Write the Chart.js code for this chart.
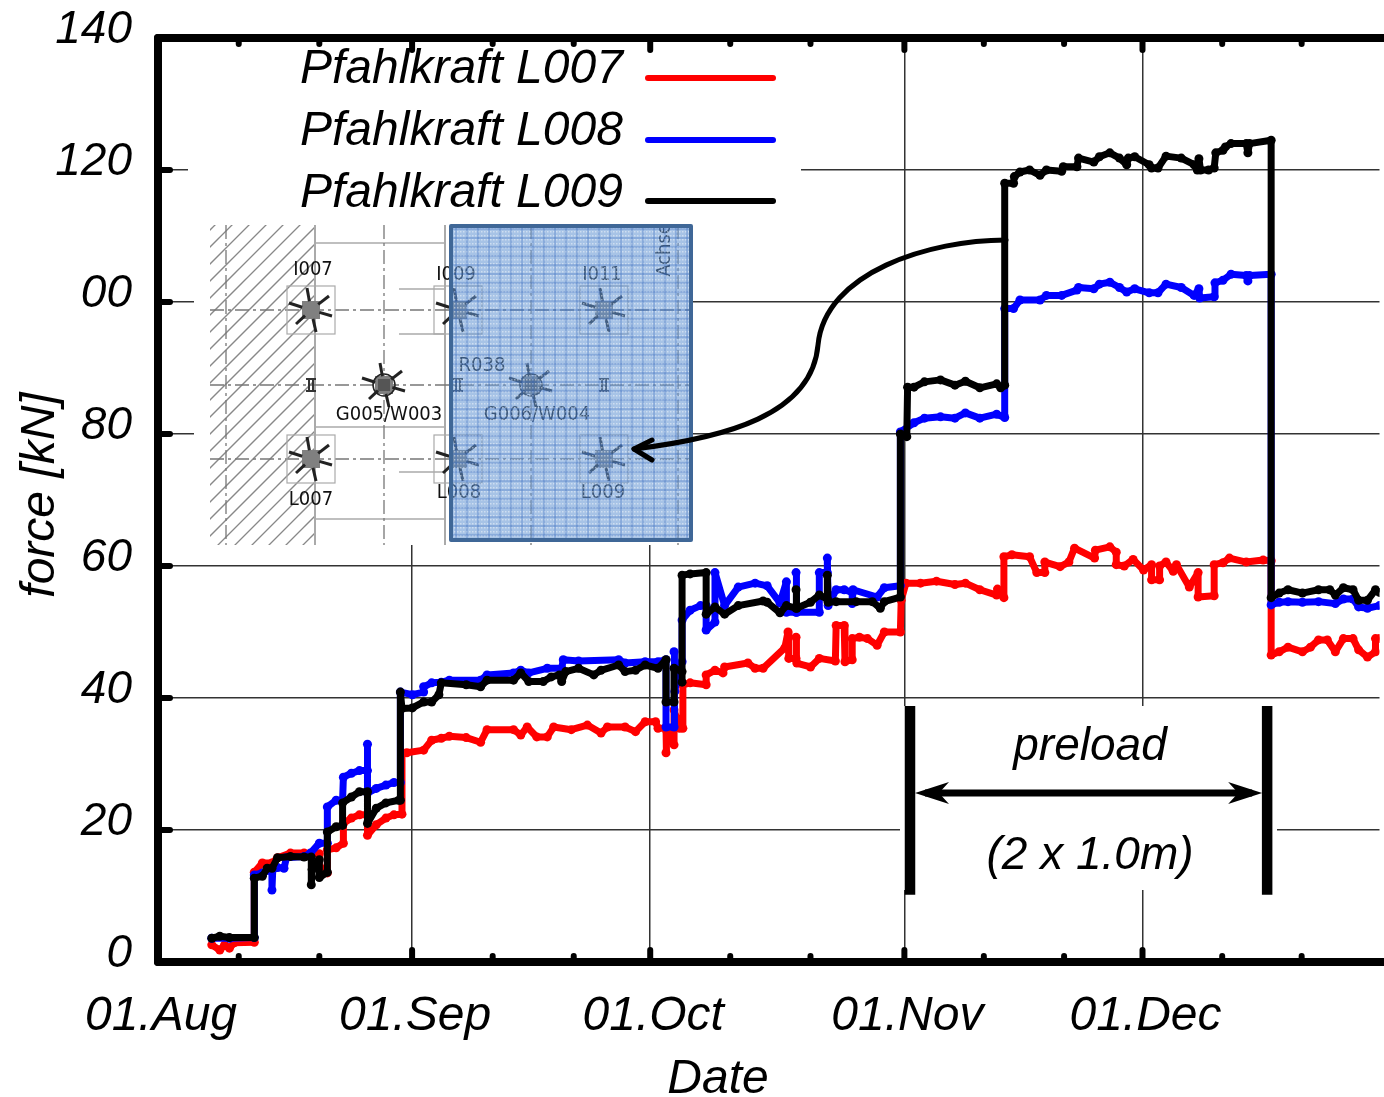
<!DOCTYPE html>
<html>
<head>
<meta charset="utf-8">
<title>force</title>
<script src="https://cdn.jsdelivr.net/npm/chart.js@4"></script>
<style>
  body { margin: 0; background: #fff; }
  canvas { display: block; }
</style>
</head>
<body>
<canvas id="chart" width="1384" height="1097"></canvas>
<script>
// Values: [days since 01.Aug, kN]
const l007 = [[6.7,2.6],[7.7,1.8],[8.3,2.6],[8.9,2.1],[9.5,2.9],[12,3],[12,13.6],[13,15],[14.2,15],[14.9,15.8],[16.5,16.5],[18.2,16.5],[20.1,16.4],[20.1,14.5],[21.1,13.5],[21.1,17],[22.2,17.3],[23.1,18],[23.1,21],[24.1,21.8],[25.1,22.3],[26.1,22.3],[26.1,19.2],[27.2,20.8],[28.4,21.8],[29.4,22.3],[30.4,22.4],[30.4,31.7],[31,31.7],[33.1,32.1],[34.1,33.6],[35.3,33.9],[36.3,34.2],[38.4,34],[40.2,33.3],[41,35.2],[44.3,35.2],[45.2,34.4],[46,35.6],[47.2,34.1],[48.5,34.1],[49.3,35.6],[51.5,35.2],[53.5,35.9],[55.2,34.7],[56,35.6],[58.2,35.6],[59.5,34.9],[60.7,36.4],[62,36.4],[62.3,35.4],[63.3,35.4],[63.3,31.7],[63.4,35],[64.3,32.9],[64.3,38.2],[65,35.4],[65.4,35.4],[65.4,42],[66.3,42.3],[68.3,42],[68.3,43.5],[69.4,44.2],[70.4,43.8],[70.6,44.7],[73.5,45.3],[74.4,44.5],[75.4,44.5],[78.1,47.6],[78.5,50],[78.6,46],[79.5,46],[79.5,49.2],[79.6,45.3],[81.3,44.7],[82.4,46],[84.4,45.6],[84.5,51],[85.5,51],[85.6,45.5],[86.5,45.8],[86.5,49],[87.4,49.2],[88.4,49],[89.6,48],[90.5,50],[92.5,50],[92.6,54.8],[93.2,57.4],[95,57.4],[97,57.7],[99.3,57.2],[100.6,57.4],[102.4,56.4],[104.5,55.6],[104.6,56.5],[105.4,55.2],[105.4,61.4],[106.4,61.7],[108.6,61.4],[109.5,59],[110.5,59],[110.5,60.6],[112.4,59.9],[113.5,60.6],[114.2,62.7],[116.7,61.2],[116.8,62.4],[118.6,62.9],[119.4,62.1],[119.4,60.2],[120.4,60],[121.5,61],[122.8,59.4],[123.8,60.2],[123.8,57.9],[124.8,57.9],[124.8,60],[125.6,60.6],[126.5,59.2],[126.9,60.2],[128.5,56.8],[129.6,59],[129.6,55.3],[131.6,55.5],[131.6,60.2],[132.7,60.5],[133.5,61.2],[135.6,60.6],[137.7,60.9],[138.7,60.8],[138.7,46.5],[139.7,47],[140.8,47.7],[142.6,47],[143.6,47.7],[144.6,48.8],[145.7,48.8],[146.7,47],[147.7,49],[148.9,49],[149.6,47.3],[150.7,46.2],[151.7,47],[151.7,49],[152.2,49]]

const l008 = [[6.7,3.6],[8.9,3.6],[12,3.7],[12,13.2],[13,13.5],[14.2,14],[14.2,10.9],[14.3,14],[14.9,14.3],[15.7,14.2],[16,15.8],[18.2,16],[19,16.5],[20.1,18],[21.1,18],[21.1,23.5],[22.2,24.5],[23,24.5],[23.1,28],[24.1,28.6],[25.1,29],[26.1,29],[26.1,33],[26.1,25.6],[27.2,26.3],[28.4,26.8],[29.4,27.2],[30.2,27.2],[30.2,40.9],[31.7,40.5],[33.1,40.9],[33.1,41.7],[34.1,42.3],[35.3,42.4],[36.3,42.7],[40.2,42.7],[41,43.5],[44.3,43.8],[45.2,44.2],[46.2,43.8],[48.5,44.5],[50.3,44.5],[50.5,45.8],[52.4,45.6],[57.4,45.8],[58.2,45.3],[60.7,45.5],[62.3,45.5],[63.3,45.8],[63.3,35.6],[64.3,35.6],[64.3,47],[64.4,41],[65.3,45.5],[65.3,51.8],[66.3,53.3],[67.6,54],[68.3,54],[68.3,50.3],[69.4,51.5],[69.4,59],[70.6,54],[72.3,56.8],[74.4,57.4],[75.9,57],[77.5,54.4],[78.3,57.6],[78.3,53],[79.5,53],[79.5,59],[79.6,53],[82.4,53],[82.4,59],[83.4,59],[83.4,61.2],[83.5,54],[84.5,56.4],[85.5,56.4],[86.5,56],[86.5,54.3],[86.6,56.4],[89.6,55.3],[90.5,56.7],[92.5,57],[92.5,80.3],[94.2,81.7],[95.5,82.4],[97.5,82.6],[99.3,82.4],[100.6,83.2],[102.4,82.4],[104.5,83],[105.5,82.5],[105.5,99],[106.6,99],[107.4,100.3],[109.9,100.3],[110.7,101],[112.6,101],[114.5,101.8],[114.7,102.2],[116.6,102],[117.3,102.7],[118.6,103],[119.8,102.2],[120.7,101.5],[121.7,102],[123.5,101.4],[124.6,101.4],[125.6,102.7],[127.5,102.2],[129.1,101],[129.7,102],[129.8,100.6],[131.6,100.8],[131.7,102.9],[132.7,103.3],[133.7,104.2],[135.6,104],[135.8,103.2],[136,104],[138.7,104.2],[138.7,54.1],[139.7,54.5],[140.8,54.6],[142.6,54.5],[144.6,54.6],[146.7,54.3],[147.7,55],[148.9,55],[149.6,53.8],[150.7,53.6],[152.2,54]]

const l009 = [[6.7,3.6],[7.7,3.9],[8.9,3.7],[12,3.7],[12,12.7],[13,13],[13.6,14.2],[14.2,14.2],[14.9,15.8],[16.5,16],[18.2,15.9],[19.1,15.9],[19.1,11.7],[19.2,14],[20.1,15.5],[20.1,12.8],[21.1,13.6],[21.1,19.7],[22.2,20.5],[23,20.7],[23,24.1],[24.1,25],[25.1,25.8],[26.1,25.8],[26.1,21],[27.2,23.3],[28.4,24.1],[30,24.5],[30.2,24.5],[30.2,40.9],[30.4,38.4],[31.7,38.5],[33.1,39.4],[34.1,39.4],[35,40.5],[35.3,42.3],[38.4,42],[40.2,41.7],[41,42.7],[44.3,42.7],[45.2,43.8],[46.2,42.5],[48,42.5],[49,43.2],[50,43.5],[50.3,42.5],[50.8,44],[52.4,44.5],[54.3,43.5],[55.2,44.2],[57.4,45],[58.2,44],[59.5,44.2],[60.7,45],[62.3,44.5],[63.3,45.8],[63.3,39.4],[64.3,39.4],[64.3,44.5],[65.3,44],[65.3,42.4],[65.3,58.6],[66.3,58.8],[68.3,59],[68.3,52.7],[69.4,53.8],[70.6,52.7],[72.3,54],[75.4,54.7],[75.9,54.5],[77.5,52.9],[78.3,54],[79.5,53.6],[79.5,56.4],[79.6,53.6],[81.3,54.5],[82.4,55.6],[83.4,55],[83.4,58.6],[83.5,54.5],[84.5,54.6],[87,54.6],[89,54.6],[90,53.6],[90.5,54.6],[92.5,55.3],[92.5,80],[93.3,79.6],[93.4,87.1],[94.2,87.1],[95.5,87.9],[97.5,88.2],[99.3,87.4],[100.6,88],[102.4,87],[104.5,87.6],[105,87],[105.5,87.4],[105.5,118],[106.6,118],[106.7,119],[107.4,119.7],[108.6,120],[109.9,119.2],[110.7,120],[112.6,119.8],[112.8,120.5],[114.5,120.5],[114.7,121.8],[116.6,121.2],[117.3,122],[118.6,122.6],[119.8,121.8],[120.7,120.8],[120.9,121.8],[121.7,122],[123.5,120.8],[123.8,120.3],[124.6,120.3],[125.6,122.1],[127.5,121.8],[129.1,120.8],[129.5,120],[129.7,121.7],[129.9,120],[130.9,120],[131.6,120.3],[131.8,122.6],[132.7,123],[133,123.5],[133.7,124],[135.6,124],[135.8,122.6],[136,124],[138.7,124.5],[138.7,55.2],[139.7,55.9],[140.8,56.4],[142.6,55.9],[144.6,56.4],[146,56.4],[146.7,55.6],[147.7,56.7],[148.9,56.4],[149.6,54.8],[150.7,54.8],[151.7,56.4],[152.2,56]]

// Tick labels and where the picture puts them
const monthTicks = [0, 31.66, 61.33, 93, 122.67]
const monthLabels = ["01.Aug", "01.Sep", "01.Oct", "01.Nov", "01.Dec"]
const minorTicks = [10.06, 20.1, 41.7, 51.8, 71.3, 81.3, 102.9, 112.9, 132.6, 142.5]
const forceLabels = ["0", "20", "40", "60", "80", "00", "120", "140"]

const seriesNames = ["Pfahlkraft L007", "Pfahlkraft L008", "Pfahlkraft L009"]
const seriesColors = ["#ff0000", "#0000ff", "#000000"]
const preloadDays = [93.7, 138.2]

const FONT = '"Liberation Sans", Arial, sans-serif'
const bigFont = `italic 48px ${FONT}`

function line(ctx, x1, y1, x2, y2) {
  ctx.beginPath()
  ctx.moveTo(x1, y1)
  ctx.lineTo(x2, y2)
  ctx.stroke()
}

// Pile symbol of the little site plan
function pile(ctx, cx, cy, boxed, ring) {
  ctx.save()
  if (boxed) {
    ctx.strokeStyle = "#aaa"
    ctx.lineWidth = 1.2
    ctx.strokeRect(cx - 24, cy - 24, 48, 48)
  }
  ctx.fillStyle = "#808080"
  ctx.fillRect(cx - 9, cy - 9, 18, 18)
  ctx.strokeStyle = "#222"
  ctx.lineWidth = 3
  const spokes = [[-4, -22], [18, -14], [21, 6], [5, 22], [-15, 14], [-22, -7]]
  spokes.forEach((s) => line(ctx, cx + s[0] * 0.4, cy + s[1] * 0.4, cx + s[0], cy + s[1]))
  if (ring) {
    ctx.lineWidth = 1.5
    ctx.beginPath()
    ctx.arc(cx, cy, 11, 0, Math.PI * 2)
    ctx.stroke()
    ctx.fillStyle = "#555"
    ctx.fillRect(cx - 6, cy - 6, 12, 12)
  }
  ctx.restore()
}

function drawPlan(ctx) {
  ctx.save()
  ctx.beginPath()
  ctx.rect(210, 225, 105, 320)
  ctx.clip()
  ctx.strokeStyle = "#888"
  ctx.lineWidth = 1.3
  for (let i = 0; i < 30; i++) {
    line(ctx, 190, 250 + i * 17, 330, 110 + i * 17)
  }
  ctx.restore()

  ctx.save()
  ctx.strokeStyle = "#aaa"
  ctx.lineWidth = 2
  line(ctx, 315, 225, 315, 545)
  line(ctx, 445, 225, 445, 545)
  ctx.lineWidth = 1.5
  ;[243, 427, 519].forEach((y) => line(ctx, 315, y, 445, y))
  ;[289, 334, 472].forEach((y) => line(ctx, 399, y, 445, y))

  ctx.strokeStyle = "#777"
  ctx.lineWidth = 1.3
  ctx.setLineDash([14, 4, 3, 4])
  ;[310, 385, 459].forEach((y) => line(ctx, 210, y, 690, y))
  ;[226, 384, 531, 678].forEach((x) => line(ctx, x, 225, x, 545))
  ctx.restore()

  ;[311, 458, 604].forEach((x) => {
    pile(ctx, x, 310, true, false)
    pile(ctx, x, 459, true, false)
    ctx.strokeStyle = "#333"
    ctx.lineWidth = 2
    line(ctx, x - 5, 379, x + 5, 379)
    line(ctx, x - 5, 391, x + 5, 391)
    line(ctx, x - 2, 379, x - 2, 391)
    line(ctx, x + 2, 379, x + 2, 391)
  })
  pile(ctx, 384, 385, false, true)
  pile(ctx, 531, 385, false, true)

  ctx.save()
  ctx.fillStyle = "#111"
  ctx.font = '20px "DejaVu Sans Condensed", "DejaVu Sans", sans-serif'
  ctx.textAlign = "center"
  ctx.textBaseline = "middle"
  const planLabels = [["I007", 313, 270], ["I009", 456, 275], ["I011", 602, 275], ["R038", 482, 366], ["G005/W003", 389, 415], ["G006/W004", 537, 415], ["L007", 311, 500], ["L008", 459, 493], ["L009", 603, 493]]
  planLabels.forEach((t) => ctx.fillText(t[0], t[1], t[2]))
  ctx.translate(665, 250)
  ctx.rotate(-Math.PI / 2)
  ctx.fillText("Achse", 0, 0)
  ctx.restore()

  // translucent blue panel with the mesh look
  ctx.save()
  ctx.fillStyle = "rgba(95,145,210,0.55)"
  ctx.fillRect(450, 225, 242, 316)
  ctx.beginPath()
  ctx.rect(450, 225, 242, 316)
  ctx.clip()
  ctx.fillStyle = "rgba(255,255,255,0.45)"
  for (let y = 227; y < 541; y += 4) {
    for (let x = 451; x < 692; x += 3) {
      ctx.fillRect(x, y, 1.5, 1.5)
    }
  }
  ctx.strokeStyle = "rgba(50,100,190,0.5)"
  ctx.lineWidth = 1
  for (let y = 229; y < 541; y += 9) line(ctx, 450, y, 692, y)
  for (let x = 456; x < 692; x += 11) line(ctx, x, 225, x, 541)
  ctx.restore()
  ctx.strokeStyle = "#3f6797"
  ctx.lineWidth = 4
  ctx.lineJoin = "round"
  ctx.strokeRect(451, 226, 240, 314)
}

// Frame, round tick marks and the white areas that hide the grid
const framePlugin = {
  id: "frame",
  beforeDatasetsDraw(chart) {
    const ctx = chart.ctx
    ctx.save()
    ctx.fillStyle = "#fff"
    ctx.fillRect(188, 42, 613, 183)
    ctx.fillRect(194, 225, 498, 320)
    ctx.fillRect(900, 706, 377, 184)
    ctx.restore()
  },
  afterDatasetsDraw(chart) {
    const ctx = chart.ctx
    const area = chart.chartArea
    const xs = chart.scales.x
    const ys = chart.scales.y
    ctx.save()
    ctx.strokeStyle = "#000"
    ctx.lineCap = "round"

    ctx.lineWidth = 6
    monthTicks.concat(minorTicks).forEach((v) => {
      const len = monthTicks.includes(v) ? 12 : 6
      const px = xs.getPixelForValue(v)
      line(ctx, px, area.bottom, px, area.bottom - len)
      line(ctx, px, area.top, px, area.top + len)
    })
    forceLabels.forEach((_, i) => {
      const py = ys.getPixelForValue(i * 20)
      line(ctx, area.left, py, area.left + 12, py)
    })

    ctx.lineWidth = 8
    line(ctx, area.left, area.top, area.right + 5, area.top)
    line(ctx, area.left, area.top, area.left, area.bottom)
    line(ctx, area.left, area.bottom, area.right + 5, area.bottom)
    ctx.lineCap = "butt"

    drawPlan(ctx)

    // leader arrow from the L009 curve to pile L009
    ctx.strokeStyle = "#000"
    ctx.lineWidth = 5
    ctx.lineCap = "round"
    ctx.lineJoin = "round"
    ctx.beginPath()
    ctx.moveTo(1006, 240)
    ctx.bezierCurveTo(930, 240, 825, 272, 818, 345)
    ctx.bezierCurveTo(812, 415, 725, 438, 634, 449)
    ctx.stroke()
    ctx.beginPath()
    ctx.moveTo(652, 440)
    ctx.lineTo(634, 449)
    ctx.lineTo(652, 460)
    ctx.stroke()

    // legend, text on the left of the sample
    const rows = [83, 145, 207]
    const samples = [78, 140, 201]
    ctx.font = bigFont
    ctx.textAlign = "left"
    ctx.textBaseline = "alphabetic"
    ctx.fillStyle = "#000"
    seriesNames.forEach((name, i) => {
      ctx.fillText(name, 300, rows[i])
      ctx.strokeStyle = seriesColors[i]
      ctx.lineWidth = 6
      line(ctx, 648, samples[i], 773, samples[i])
    })

    // preload marker
    const barLeft = xs.getPixelForValue(preloadDays[0])
    const barRight = xs.getPixelForValue(preloadDays[1])
    const barTop = ys.getPixelForValue(38.8)
    const barBottom = ys.getPixelForValue(10.2)
    const arrowY = ys.getPixelForValue(25.6)
    ctx.strokeStyle = "#000"
    ctx.fillStyle = "#000"
    ctx.lineCap = "butt"
    ctx.lineWidth = 10.5
    line(ctx, barLeft, barTop, barLeft, barBottom)
    line(ctx, barRight, barTop, barRight, barBottom)
    ctx.lineWidth = 7
    line(ctx, barLeft + 15, arrowY, barRight - 15, arrowY)
    const inL = barLeft + 5
    const inR = barRight - 5
    ctx.beginPath()
    ctx.moveTo(inL, arrowY)
    ctx.lineTo(inL + 34, arrowY - 11)
    ctx.lineTo(inL + 24, arrowY)
    ctx.lineTo(inL + 34, arrowY + 11)
    ctx.closePath()
    ctx.fill()
    ctx.beginPath()
    ctx.moveTo(inR, arrowY)
    ctx.lineTo(inR - 34, arrowY - 11)
    ctx.lineTo(inR - 24, arrowY)
    ctx.lineTo(inR - 34, arrowY + 11)
    ctx.closePath()
    ctx.fill()
    ctx.font = `italic 46px ${FONT}`
    ctx.textAlign = "center"
    ctx.fillText("preload", 1090, 760)
    ctx.fillText("(2 x 1.0m)", 1090, 869)

    // axis titles
    ctx.font = bigFont
    ctx.fillText("Date", 718, 1093)
    ctx.translate(54, 495)
    ctx.rotate(-Math.PI / 2)
    ctx.fillText("force [kN]", 0, 0)
    ctx.restore()
  },
}

function seriesDataset(points, i) {
  return {
    label: seriesNames[i],
    data: points.map((p) => ({ x: p[0], y: p[1] })),
    borderColor: seriesColors[i],
    backgroundColor: seriesColors[i],
    borderWidth: 7,
    borderJoinStyle: "round",
    pointRadius: 4.5,
    pointBorderWidth: 0,
    tension: 0,
    order: 3 - i,
  }
}

new Chart(document.getElementById("chart"), {
  type: "line",
  data: {
    datasets: [seriesDataset(l007, 0), seriesDataset(l008, 1), seriesDataset(l009, 2)],
  },
  options: {
    responsive: false,
    animation: false,
    layout: { padding: { top: 38, left: 0, right: 0, bottom: 0 } },
    plugins: { legend: { display: false }, tooltip: { enabled: false } },
    scales: {
      x: {
        type: "linear",
        min: 0,
        max: 152.2,
        afterFit(scale) {
          scale.height = 135
          scale.paddingLeft = 0
          scale.paddingRight = 0
        },
        afterBuildTicks(scale) {
          scale.ticks = monthTicks.map((value) => ({ value }))
        },
        border: { display: false },
        grid: { color: "#333", lineWidth: 1.5, drawTicks: false },
        ticks: {
          autoSkip: false,
          maxRotation: 0,
          padding: 26,
          labelOffset: 3,
          color: "#000",
          font: { family: FONT, size: 48, style: "italic" },
          callback: (value) => monthLabels[monthTicks.indexOf(value)],
        },
      },
      y: {
        min: 0,
        max: 140,
        afterFit(scale) {
          scale.width = 158
          scale.paddingTop = 0
          scale.paddingBottom = 0
        },
        border: { display: false },
        grid: { color: "#333", lineWidth: 1.5, drawTicks: false },
        ticks: {
          stepSize: 20,
          padding: 26,
          labelOffset: -8,
          color: "#000",
          font: { family: FONT, size: 46, style: "italic" },
          callback: (value) => forceLabels[value / 20],
        },
      },
    },
  },
  plugins: [framePlugin],
})
</script>
</body>
</html>
